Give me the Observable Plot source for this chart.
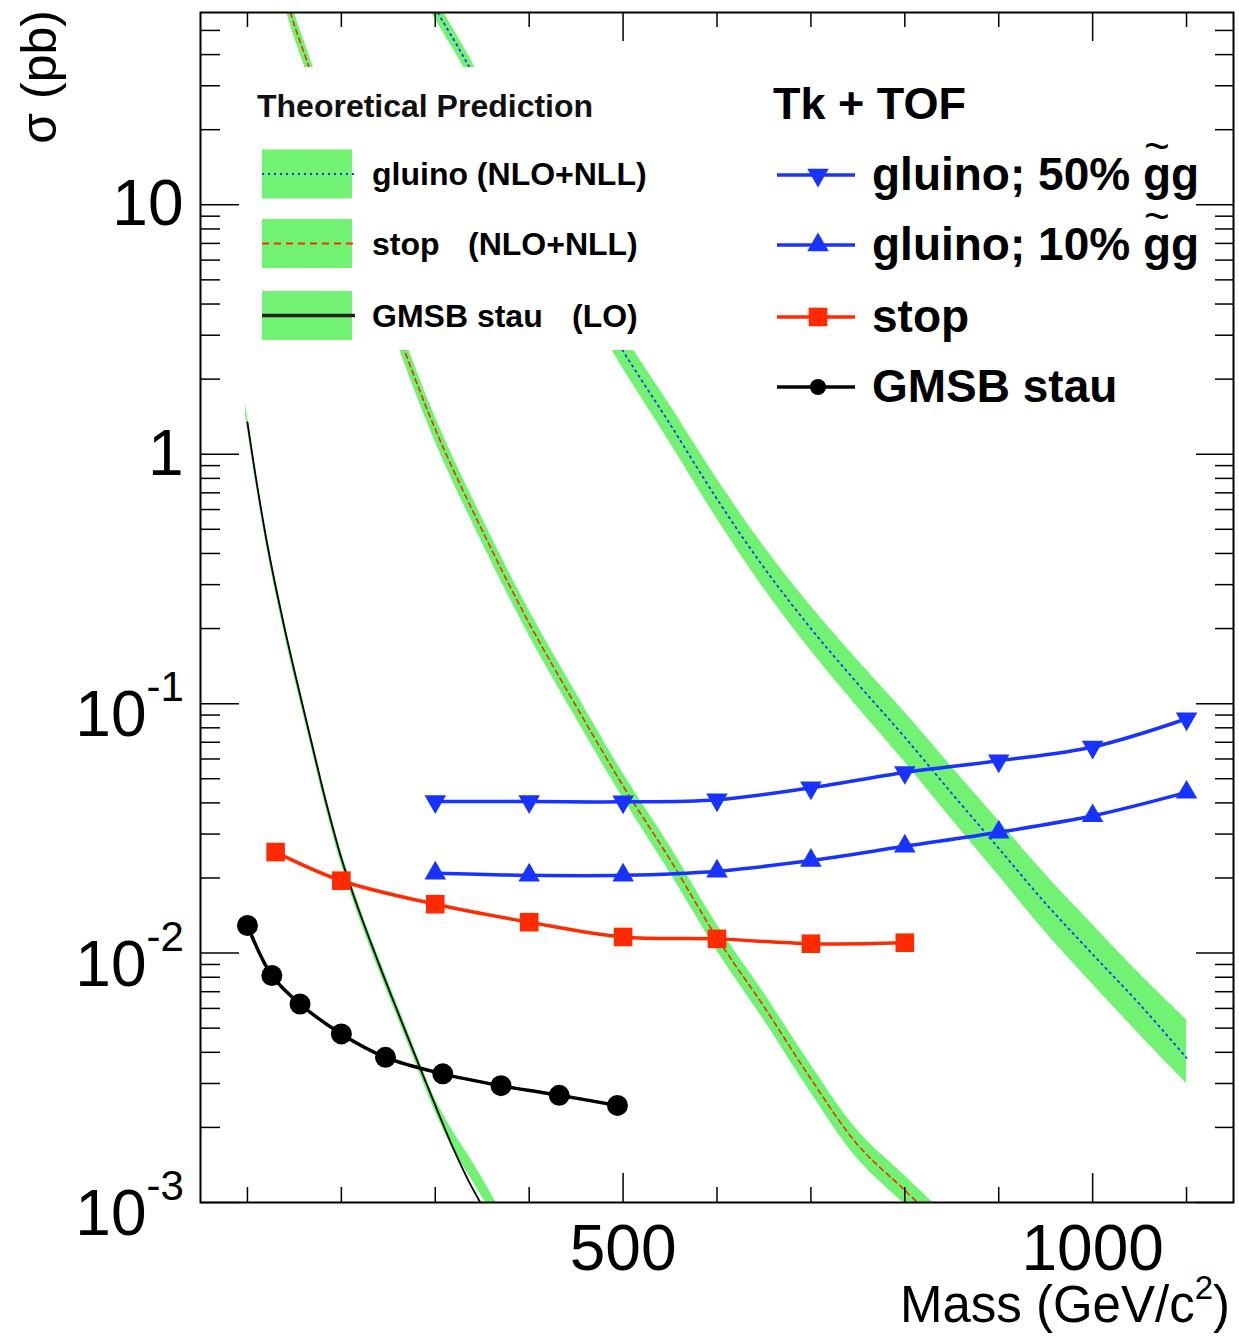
<!DOCTYPE html>
<html>
<head>
<meta charset="utf-8">
<script src="https://cdn.jsdelivr.net/npm/d3@7"></script>
<script src="https://cdn.jsdelivr.net/npm/@observablehq/plot@0.6"></script>
<style>
  html, body { margin: 0; padding: 0; background: #fff; }
  #chart svg { display: block; }
</style>
</head>
<body>
<div id="chart"></div>
<script>
// ---------- axis ticks ----------
const xMinorTicks = [100, 200, 300, 400, 600, 700, 800, 900, 1100];
const xMajorTicks = [500, 1000];
const xTickLabels = ["500", "1000"];
const yMajorTicks = [0.001, 0.01, 0.1, 1, 10];
const yTickBase = ["10", "10", "10", "1", "10"];
const yTickExp = ["-3", "-2", "-1", "", ""];
const yMinorTicks = [0.002,0.003,0.004,0.005,0.006,0.007,0.008,0.009,
                     0.02,0.03,0.04,0.05,0.06,0.07,0.08,0.09,
                     0.2,0.3,0.4,0.5,0.6,0.7,0.8,0.9,
                     2,3,4,5,6,7,8,9,
                     20,30,40,50];

// ---------- theoretical predictions (pb) ----------
const gluinoTheoryMass = [290,300,335,400,450,500,550,600,650,700,750,800,850,900,950,1000,1050,1100];
const gluinoTheoryXsec = [70.8,61.1,36.3,11.8,5.33,2.59,1.32,0.661,0.351,0.200,0.120,0.0733,0.0437,0.0263,0.0158,0.00989,0.00624,0.0038];
const gluinoTheoryLow  = [64.4,55.5,33.0,10.4,4.56,2.20,1.11,0.550,0.289,0.163,0.0964,0.0582,0.0343,0.0204,0.0121,0.0075,0.00471,0.0030];
const gluinoTheoryHigh = [77.9,67.2,39.9,13.4,6.23,3.04,1.57,0.795,0.427,0.246,0.149,0.0923,0.0557,0.0339,0.0206,0.0130,0.00826,0.0054];

const stopTheoryMass = [140,150,165,200,250,300,350,400,450,500,550,600,650,700,750,800,830];
const stopTheoryXsec = [69.2,52.5,36.1,14.5,3.94,1.26,0.495,0.21,0.0977,0.0468,0.0237,0.0115,0.0061,0.00313,0.0017,0.00112,0.00087];
const stopTheoryLow  = [61.7,46.8,32.2,12.9,3.51,1.12,0.441,0.187,0.0871,0.0417,0.0210,0.0102,0.00538,0.00275,0.00149,0.00098,0.00076];
const stopTheoryHigh = [77.6,58.9,40.5,16.3,4.42,1.41,0.555,0.236,0.110,0.0525,0.0268,0.0130,0.00692,0.00356,0.00194,0.00128,0.00100];

const stauTheoryMass = [100,110,120,130,140,150,165,180,190,200,215,230,250,270,300,320,335,350];
const stauTheoryXsec = [1.34,0.762,0.459,0.295,0.197,0.135,0.0785,0.0457,0.0327,0.024,0.0162,0.01135,0.00724,0.00468,0.00245,0.00162,0.00123,0.00097];
const stauBandMass = [98,110,120,130,140,150,165,180,190,200,215,230,250,270,300,320,335,350,365];
const stauBandLow  = [1.42,0.719,0.433,0.278,0.186,0.127,0.0741,0.0431,0.0308,0.0226,0.0153,0.0107,0.00683,0.00442,0.00231,0.00160,0.00130,0.00105,0.00085];
const stauBandHigh = [1.59,0.808,0.487,0.313,0.209,0.143,0.0832,0.0484,0.0347,0.0254,0.0172,0.0120,0.00767,0.00496,0.00260,0.00190,0.00155,0.00125,0.00100];

// ---------- Tk + TOF limits (pb) ----------
const gluino50Mass = [300,400,500,600,700,800,900,1000,1100];
const gluino50Xsec = [0.0405,0.0405,0.0404,0.0412,0.046,0.053,0.059,0.067,0.087];
const gluino10Mass = [300,400,500,600,700,800,900,1000,1100];
const gluino10Xsec = [0.0209,0.0205,0.0205,0.0213,0.0235,0.0268,0.0305,0.0355,0.0441];
const stopMass = [130,200,300,400,500,600,700,800];
const stopXsec = [0.0254,0.0195,0.0157,0.0133,0.0116,0.0114,0.0109,0.0110];
const stauMass = [100,126,156,200,247,308,370,432,494];
const stauXsec = [0.0129,0.00813,0.00625,0.00474,0.00382,0.00328,0.00294,0.00269,0.00245];

// ---------- styling ----------
const FONT = '"Liberation Sans", Arial, Helvetica, sans-serif';
const GREEN = "#72f272", BLUE = "#1832ff", RED = "#ff2a00", BLACK = "#000";
const W = 1239, H = 1337, ML = 200, MR = 6, MT = 12, MB = 135;
const FW = W - ML - MR, FH = H - MT - MB;

const zip = (ms, ys) => ms.map((m, i) => ({m, y: ys[i]}));
const band = (ms, lo, hi) => ms.map((m, i) => ({m, lo: lo[i], hi: hi[i]}));

function triSymbol(down) {
  return {
    draw(ctx, size) {
      const a = Math.sqrt(4 * size / Math.sqrt(3));
      const h = Math.sqrt(3) / 2 * a;
      const s = down ? 1 : -1;
      ctx.moveTo(0, s * 2 * h / 3);
      ctx.lineTo(-a / 2, -s * h / 3);
      ctx.lineTo(a / 2, -s * h / 3);
      ctx.closePath();
    }
  };
}
const triDown = triSymbol(true), triUp = triSymbol(false);

const plot = Plot.plot({
  width: W, height: H,
  marginLeft: ML, marginRight: MR, marginTop: MT, marginBottom: MB,
  x: {domain: [50, 1150], axis: null},
  y: {type: "log", domain: [0.001, 59], axis: null},
  style: {fontFamily: FONT, background: "white", color: "black", overflow: "visible"},
  marks: [
    // theory bands
    Plot.areaY(band(gluinoTheoryMass, gluinoTheoryLow, gluinoTheoryHigh), {x: "m", y1: "lo", y2: "hi", fill: GREEN, curve: "catmull-rom", clip: true}),
    Plot.areaY(band(stopTheoryMass, stopTheoryLow, stopTheoryHigh), {x: "m", y1: "lo", y2: "hi", fill: GREEN, curve: "catmull-rom", clip: true}),
    Plot.areaY(band(stauBandMass, stauBandLow, stauBandHigh), {x: "m", y1: "lo", y2: "hi", fill: GREEN, curve: "catmull-rom", clip: true}),
    // theory central lines
    Plot.line(zip(gluinoTheoryMass, gluinoTheoryXsec), {x: "m", y: "y", stroke: BLUE, strokeWidth: 1.8, strokeDasharray: "1.5,4.5", curve: "catmull-rom", clip: true}),
    Plot.line(zip(stopTheoryMass, stopTheoryXsec), {x: "m", y: "y", stroke: RED, strokeWidth: 1.6, strokeDasharray: "5,4", curve: "catmull-rom", clip: true}),
    Plot.line(zip(stauTheoryMass, stauTheoryXsec), {x: "m", y: "y", stroke: BLACK, strokeWidth: 1.8, curve: "catmull-rom", clip: true}),
    // ticks (inside the frame)
    Plot.ruleX(xMinorTicks, {insetTop: FH - 15, stroke: BLACK, strokeWidth: 1.5}),
    Plot.ruleX(xMajorTicks, {insetTop: FH - 29, stroke: BLACK, strokeWidth: 1.5}),
    Plot.ruleX(xMinorTicks, {insetBottom: FH - 15, stroke: BLACK, strokeWidth: 1.5}),
    Plot.ruleX(xMajorTicks, {insetBottom: FH - 29, stroke: BLACK, strokeWidth: 1.5}),
    Plot.ruleY(yMajorTicks, {insetRight: FW - 39, stroke: BLACK, strokeWidth: 1.5}),
    Plot.ruleY(yMinorTicks, {insetRight: FW - 20, stroke: BLACK, strokeWidth: 1.5}),
    Plot.ruleY(yMajorTicks, {insetLeft: FW - 37, stroke: BLACK, strokeWidth: 1.5}),
    Plot.ruleY(yMinorTicks, {insetLeft: FW - 18, stroke: BLACK, strokeWidth: 1.5}),
    Plot.frame({stroke: BLACK, strokeWidth: 2}),
    // tick labels
    Plot.text(xMajorTicks, {x: d => d, text: (d, i) => xTickLabels[i], frameAnchor: "bottom", lineAnchor: "middle", dy: 47, fontSize: 64, fill: BLACK}),
    Plot.text(yMajorTicks, {y: d => d, text: (d, i) => yTickBase[i], frameAnchor: "left", textAnchor: "end",
      dx: -17, fontSize: 64, fill: BLACK, filter: (d, i) => yTickExp[i] === ""}),
    Plot.text(yMajorTicks, {y: d => d, text: (d, i) => yTickBase[i], frameAnchor: "left", textAnchor: "end",
      dx: -54, dy: 12, fontSize: 64, fill: BLACK, filter: (d, i) => yTickExp[i] !== ""}),
    Plot.text(yMajorTicks, {y: d => d, text: (d, i) => yTickExp[i], frameAnchor: "left", textAnchor: "start",
      dx: -54, dy: -16, fontSize: 42, fill: BLACK, filter: (d, i) => yTickExp[i] !== ""}),
    // measured limits
    Plot.line(zip(gluino50Mass, gluino50Xsec), {x: "m", y: "y", stroke: BLUE, strokeWidth: 3.5, curve: "catmull-rom"}),
    Plot.line(zip(gluino10Mass, gluino10Xsec), {x: "m", y: "y", stroke: BLUE, strokeWidth: 3.5, curve: "catmull-rom"}),
    Plot.line(zip(stopMass, stopXsec), {x: "m", y: "y", stroke: RED, strokeWidth: 3.5, curve: "catmull-rom"}),
    Plot.line(zip(stauMass, stauXsec), {x: "m", y: "y", stroke: BLACK, strokeWidth: 3.5, curve: "catmull-rom"}),
    Plot.dot(zip(gluino50Mass, gluino50Xsec), {x: "m", y: "y", symbol: triDown, r: 8, fill: BLUE, stroke: "none"}),
    Plot.dot(zip(gluino10Mass, gluino10Xsec), {x: "m", y: "y", symbol: triUp, r: 8, fill: BLUE, stroke: "none"}),
    Plot.dot(zip(stopMass, stopXsec), {x: "m", y: "y", symbol: "square", r: 10.5, fill: RED, stroke: "none"}),
    Plot.dot(zip(stauMass, stauXsec), {x: "m", y: "y", symbol: "circle", r: 10.5, fill: BLACK, stroke: "none"})
  ]
});

document.getElementById("chart").appendChild(plot);

// ---------- axis titles & legends ----------
const svg = d3.select(plot);
const g = svg.append("g").attr("font-family", FONT).attr("fill", "black").attr("text-anchor", "start");

// axis titles
const xt = g.append("text").attr("x", 1230).attr("y", 1322).attr("text-anchor", "end").attr("font-size", 51);
xt.append("tspan").text("Mass (GeV/c");
xt.append("tspan").attr("font-size", 33).attr("dy", -23).text("2");
xt.append("tspan").attr("dy", 23).text(")");
g.append("text").attr("transform", "translate(56,10) rotate(-90)").attr("text-anchor", "end")
  .attr("font-size", 50).text("σ (pb)");

// left legend: theoretical predictions
const leftEntries = [
  {label: "gluino (NLO+NLL)", extra: null, extraX: 0, stroke: BLUE, dash: "2,4", yc: 174},
  {label: "stop", extra: "(NLO+NLL)", extraX: 468, stroke: RED, dash: "7,5", yc: 243.5},
  {label: "GMSB stau", extra: "(LO)", extraX: 572, stroke: "#222", dash: null, yc: 315.5}
];
g.append("rect").attr("x", 250).attr("y", 67).attr("width", 412).attr("height", 283).attr("fill", "white");
g.append("text").attr("x", 257).attr("y", 117).attr("font-size", 32).attr("font-weight", "bold").attr("fill", "#111")
  .text("Theoretical Prediction");
for (const e of leftEntries) {
  g.append("rect").attr("x", 262).attr("y", e.yc - 24.5).attr("width", 90).attr("height", 49).attr("fill", GREEN);
  g.append("line").attr("x1", 262).attr("x2", 355).attr("y1", e.yc).attr("y2", e.yc)
    .attr("stroke", e.stroke).attr("stroke-width", e.dash ? 2.2 : 3.5).attr("stroke-dasharray", e.dash);
  g.append("text").attr("x", 372).attr("y", e.yc + 11).attr("font-size", 32).attr("font-weight", "bold").text(e.label);
  if (e.extra) g.append("text").attr("x", e.extraX).attr("y", e.yc + 11).attr("font-size", 32).attr("font-weight", "bold").text(e.extra);
}

// right legend: Tk + TOF
g.append("text").attr("x", 773).attr("y", 119).attr("font-size", 45).attr("font-weight", "bold").text("Tk + TOF");
const rightEntries = [
  {label: "gluino; 50% gg", color: BLUE, sym: triDown, r: 8, yc: 175, tilde: true},
  {label: "gluino; 10% gg", color: BLUE, sym: triUp, r: 8, yc: 245, tilde: true},
  {label: "stop", color: RED, sym: d3.symbolSquare, r: 10.5, yc: 317, tilde: false},
  {label: "GMSB stau", color: BLACK, sym: d3.symbolCircle, r: 8, yc: 387, tilde: false}
];
for (const e of rightEntries) {
  g.append("line").attr("x1", 777).attr("x2", 855).attr("y1", e.yc).attr("y2", e.yc)
    .attr("stroke", e.color).attr("stroke-width", 3.5);
  g.append("path").attr("transform", `translate(818,${e.yc})`)
    .attr("d", d3.symbol(e.sym, e.r * e.r * Math.PI)()).attr("fill", e.color);
  const t = g.append("text").attr("x", 872).attr("y", e.yc + 15).attr("font-size", 46).attr("font-weight", "bold");
  t.append("tspan").text(e.label);
  if (e.tilde) {
    // tilde over the first g of "gg", kept inside the same text element
    const node = t.node();
    const idx = e.label.length - 2;
    const x0 = node.getStartPositionOfChar(idx).x;
    const x1 = node.getEndPositionOfChar(idx).x;
    t.append("tspan").attr("x", (x0 + x1) / 2 - 13).attr("y", e.yc - 14)
      .attr("font-size", 44).attr("font-weight", "normal").text("~");
  }
}
</script>
</body>
</html>
